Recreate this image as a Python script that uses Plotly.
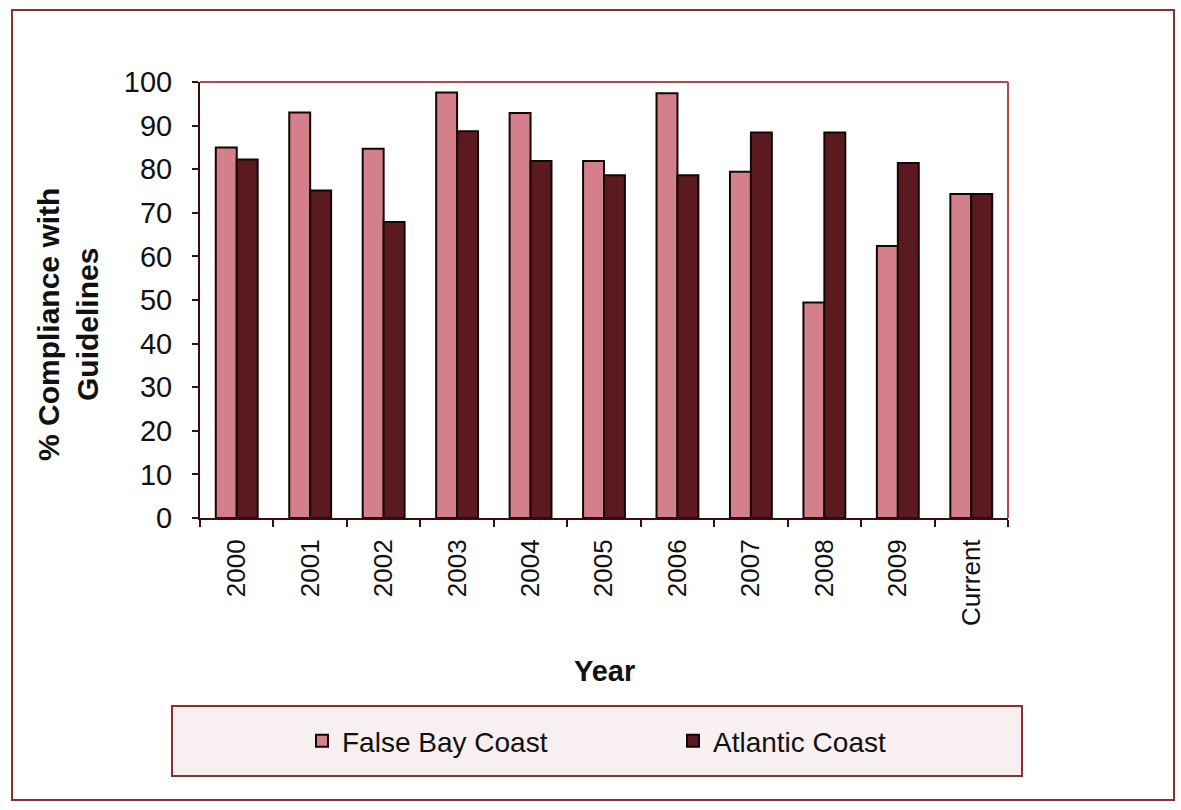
import plotly.graph_objects as go

categories = ["2000", "2001", "2002", "2003", "2004", "2005", "2006", "2007", "2008", "2009", "Current"]
false_bay = [85, 93, 84.7, 97.6, 92.9, 81.9, 97.4, 79.4, 49.4, 62.4, 74.3]
atlantic = [82.2, 75.1, 67.9, 88.7, 81.9, 78.6, 78.6, 88.4, 88.4, 81.4, 74.3]
y_ticks = [0, 10, 20, 30, 40, 50, 60, 70, 80, 90, 100]

W, H = 1181, 810
L, R, T, B = 200, 1008, 82, 518
PW, PH = R - L, B - T

def px(x):
    return (x - L) / PW

def py(y):
    return (B - y) / PH

FONT = "Liberation Sans, Arial, sans-serif"
PINK = "#d3808a"
MAROON = "#5a1a1f"
FRAME = "#8c2f31"

fig = go.Figure()
fig.add_trace(go.Bar(
    x=categories, y=false_bay, name="False Bay Coast",
    marker=dict(color=PINK, line=dict(color="#140606", width=2)),
))
fig.add_trace(go.Bar(
    x=categories, y=atlantic, name="Atlantic Coast",
    marker=dict(color=MAROON, line=dict(color="#140606", width=2)),
))

shapes = [
    # outer chart border
    dict(type="rect", xref="paper", yref="paper",
         x0=px(12), x1=px(1174), y0=py(800), y1=py(10),
         line=dict(color=FRAME, width=2), layer="below"),
    # legend box
    dict(type="rect", xref="paper", yref="paper",
         x0=px(172), x1=px(1022), y0=py(776), y1=py(706),
         line=dict(color=FRAME, width=2), fillcolor="#f8eff0", layer="below"),
    # plot area top and right edges
    dict(type="line", xref="paper", yref="paper", x0=0, x1=1, y0=1, y1=1,
         line=dict(color="#b4484a", width=2)),
    dict(type="line", xref="paper", yref="paper", x0=1, x1=1, y0=0, y1=1,
         line=dict(color="#b4484a", width=2)),
]

annotations = [
    dict(text="<b>% Compliance with<br>Guidelines</b>", xref="paper", yref="paper",
         x=px(68), y=py(325), xanchor="center", yanchor="middle", textangle=-90,
         showarrow=False, font=dict(family=FONT, size=30, color="#111")),
    dict(text="<b>Year</b>", xref="paper", yref="paper",
         x=px(604), y=py(671), xanchor="center", yanchor="middle",
         showarrow=False, font=dict(family=FONT, size=29, color="#111")),
]

fig.update_layout(
    width=W, height=H,
    margin=dict(l=L, r=W - R, t=T, b=H - B),
    paper_bgcolor="white", plot_bgcolor="white",
    barmode="group", bargap=0.43, bargroupgap=0,
    font=dict(family=FONT, color="#111"),
    showlegend=True,
    legend=dict(orientation="h", x=px(302), y=py(741), xanchor="left", yanchor="middle",
                bgcolor="rgba(0,0,0,0)", font=dict(family=FONT, size=28, color="#111"),
                entrywidth=326, entrywidthmode="pixels", traceorder="normal"),
    shapes=shapes, annotations=annotations,
)
fig.update_xaxes(type="category", tickson="boundaries", ticks="outside", ticklen=7,
                 tickwidth=2, tickcolor="#3a0d0d", tickangle=-90,
                 showline=True, linecolor="#3a0d0d", linewidth=2, showgrid=False,
                 tickfont=dict(family=FONT, size=26, color="#111"), ticklabelstandoff=9)
fig.update_yaxes(range=[0, 100], tickvals=y_ticks, ticks="outside", ticklen=6,
                 tickwidth=2, tickcolor="#3a0d0d",
                 showline=True, linecolor="#3a0d0d", linewidth=2, showgrid=False,
                 zeroline=False,
                 tickfont=dict(family=FONT, size=29, color="#111"), ticklabelstandoff=14)

fig.write_html("out.html")
